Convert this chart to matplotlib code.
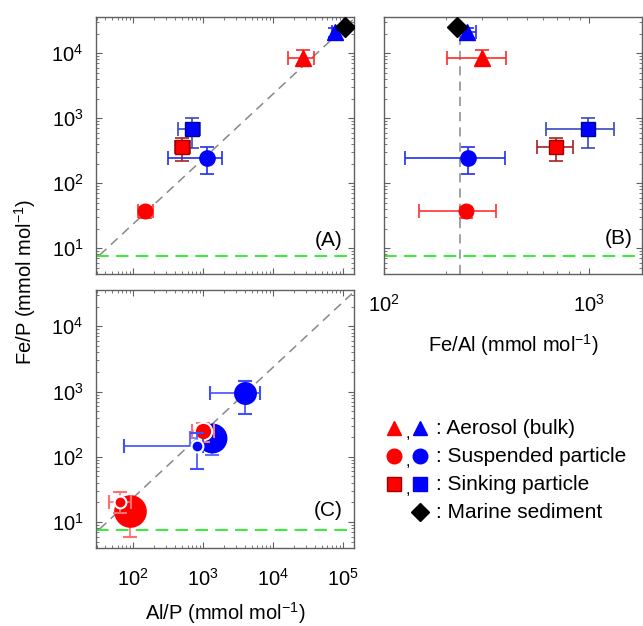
"""Fe/P vs Al/P and Fe/Al for aerosol, particles and sediment (three panels)."""

import matplotlib

matplotlib.use("Agg")
import matplotlib.pyplot as plt
import numpy as np
from matplotlib.ticker import LogLocator, NullFormatter

plt.rcParams["font.family"] = ["Liberation Sans", "DejaVu Sans"]
plt.rcParams["mathtext.default"] = "regular"
plt.rcParams["font.size"] = 14

# --- panels A / B : one point per sample type -------------------------------
sample = ["aerosol_red", "aerosol_blue", "susp_red", "susp_blue",
          "sink_red", "sink_blue", "sediment"]
al_p = [2.7e4, 7.8e4, 148, 1130, 506, 703, 1.08e5]
al_p_lo = [1.66e4, 7.0e4, 117, 319, 398, 435, 1.08e5]
al_p_hi = [3.85e4, 8.6e4, 190, 1890, 652, 906, 1.08e5]
fe_p = [8400, 2.1e4, 37, 245, 362, 680, 2.5e4]
fe_p_lo = [6500, 1.8e4, 29, 137, 218, 350, 2.5e4]
fe_p_hi = [1.1e4, 2.4e4, 43, 358, 498, 1010, 2.5e4]
fe_al = [302, 255, 250, 256, 690, 985, 228]
fe_al_lo = [204, 245, 148, 126, 558, 617, 228]
fe_al_hi = [395, 282, 351, 390, 832, 1325, 228]

# --- panel C : size-resolved particles ---------------------------------------
c_al_p = [89, 65, 1330, 1010, 810, 4000]
c_al_p_lo = [75, 45, 650, 700, 75, 1260]
c_al_p_hi = [105, 93, 2000, 1450, 1000, 6500]
c_fe_p = [14.8, 20, 192, 248, 148, 965]
c_fe_p_lo = [5.9, 14, 105, 170, 66, 450]
c_fe_p_hi = [22, 29, 300, 330, 229, 1475]

crust_fe_al = 235.0      # mmol/mol, dashed reference
fe_p_floor = 7.5         # green dashed line

# styles (kept apart from the data)
RED, BLUE = "#ff0000", "#0000ff"
ab_style = {
    "aerosol_red": dict(marker="^", mfc=RED, mec=RED, ecolor="#ff2a2a", ms=12),
    "aerosol_blue": dict(marker="^", mfc=BLUE, mec=BLUE, ecolor="#2a2aff", ms=12),
    "susp_red": dict(marker="o", mfc=RED, mec=RED, ecolor="#ff3030", ms=10.5),
    "susp_blue": dict(marker="o", mfc=BLUE, mec=BLUE, ecolor="#2030e8", ms=11),
    "sink_red": dict(marker="s", mfc=RED, mec="#a00000", ecolor="#a82020", ms=10.5),
    "sink_blue": dict(marker="s", mfc=BLUE, mec="#0000a0", ecolor="#3848c0", ms=10.5),
    "sediment": dict(marker="D", mfc="black", mec="black", ecolor="black", ms=10),
}
ab_order = ["sink_blue", "sink_red", "susp_blue", "susp_red",
            "aerosol_red", "aerosol_blue", "sediment"]

c_style = [
    dict(mfc=RED, mec=RED, ecolor="#ff7070", ms=22, ls="-"),
    dict(mfc=RED, mec="white", ecolor="#ff7070", ms=8.5, ls="--"),
    dict(mfc=BLUE, mec=BLUE, ecolor="#6070ff", ms=20, ls="--"),
    dict(mfc=RED, mec="white", ecolor="#ff7070", ms=12.5, ls="--"),
    dict(mfc=BLUE, mec="white", ecolor="#4050ff", ms=8.5, ls="-"),
    dict(mfc=BLUE, mec=BLUE, ecolor="#4050ff", ms=15, ls="-"),
]

W, H = 643, 626
fig = plt.figure(figsize=(W / 100, H / 100), dpi=100)


def px_axes(x0, y0, x1, y1):
    return fig.add_axes([x0 / W, 1 - y1 / H, (x1 - x0) / W, (y1 - y0) / H])


ax_a = px_axes(96, 17, 354, 274)
ax_b = px_axes(384, 17, 642, 274)
ax_c = px_axes(96, 290, 354, 548)

XLIM_ALP = (29.5, 1.44e5)
YLIM_FEP = (4.0, 3.6e4)
SPINE = "#606060"


def style_axes(ax):
    ax.set_xscale("log")
    ax.set_yscale("log")
    for sp in ax.spines.values():
        sp.set_color(SPINE)
        sp.set_linewidth(1.0)
    ax.tick_params(which="both", direction="in", top=True, right=True,
                   color=SPINE, labelsize=14.5)
    ax.tick_params(which="major", length=4, width=0.8)
    ax.tick_params(which="minor", length=2, width=0.6)
    ax.tick_params(axis="y", pad=9)
    ax.tick_params(axis="x", pad=14)
    ax.yaxis.set_major_locator(LogLocator(base=10, numticks=10))
    ax.yaxis.set_minor_locator(LogLocator(base=10, subs=np.arange(2, 10), numticks=10))
    ax.yaxis.set_minor_formatter(NullFormatter())
    ax.xaxis.set_minor_formatter(NullFormatter())
    ax.set_ylim(*YLIM_FEP)


def err_pair(v, lo, hi):
    return [[v - lo], [hi - v]]


ref_x = np.logspace(0, 6, 50)

# panel A
style_axes(ax_a)
ax_a.set_xlim(*XLIM_ALP)
ax_a.plot(ref_x, ref_x * crust_fe_al / 1000, ls=(0, (6, 4)), color="#888888", lw=1.1, zorder=1)
ax_a.axhline(fe_p_floor, color="#22ee22", ls=(0, (7, 4)), lw=1.3, zorder=1)
for name in ab_order:
    i = sample.index(name)
    st = ab_style[name]
    ax_a.errorbar(al_p[i], fe_p[i],
                  xerr=err_pair(al_p[i], al_p_lo[i], al_p_hi[i]),
                  yerr=err_pair(fe_p[i], fe_p_lo[i], fe_p_hi[i]),
                  fmt=st["marker"], ms=st["ms"], mfc=st["mfc"], mec=st["mec"],
                  ecolor=st["ecolor"], elinewidth=1.2, capsize=5, capthick=1.2, zorder=3)
ax_a.tick_params(axis="x", labelbottom=False)
ax_a.text(0.955, 0.13, "(A)", transform=ax_a.transAxes, ha="right", va="center", fontsize=15)

# panel B
style_axes(ax_b)
ax_b.set_xlim(100, 1815)
ax_b.axvline(crust_fe_al, ls=(0, (6, 4)), color="#888888", lw=1.1, zorder=1)
ax_b.axhline(fe_p_floor, color="#22ee22", ls=(0, (7, 4)), lw=1.3, zorder=1)
for name in ab_order:
    i = sample.index(name)
    st = ab_style[name]
    ax_b.errorbar(fe_al[i], fe_p[i],
                  xerr=err_pair(fe_al[i], fe_al_lo[i], fe_al_hi[i]),
                  yerr=err_pair(fe_p[i], fe_p_lo[i], fe_p_hi[i]),
                  fmt=st["marker"], ms=st["ms"], mfc=st["mfc"], mec=st["mec"],
                  ecolor=st["ecolor"], elinewidth=1.2, capsize=5, capthick=1.2, zorder=3)
ax_b.tick_params(axis="y", labelleft=False)
ax_b.set_xlabel("Fe/Al (mmol mol$^{-1}$)", fontsize=14.5, labelpad=12)
ax_b.text(0.965, 0.14, "(B)", transform=ax_b.transAxes, ha="right", va="center", fontsize=15)

# panel C
style_axes(ax_c)
ax_c.set_xlim(*XLIM_ALP)
ax_c.plot(ref_x, ref_x * crust_fe_al / 1000, ls=(0, (6, 4)), color="#888888", lw=1.1, zorder=1)
ax_c.axhline(fe_p_floor, color="#22ee22", ls=(0, (7, 4)), lw=1.3, zorder=1)
for i, st in enumerate(c_style):
    eb = ax_c.errorbar(c_al_p[i], c_fe_p[i],
                       xerr=err_pair(c_al_p[i], c_al_p_lo[i], c_al_p_hi[i]),
                       yerr=err_pair(c_fe_p[i], c_fe_p_lo[i], c_fe_p_hi[i]),
                       fmt="o", ms=st["ms"], mfc=st["mfc"], mec=st["mec"], mew=1.5,
                       ecolor=st["ecolor"], elinewidth=1.2, capsize=5, capthick=1.2,
                       zorder=3 + i)
    for bar in eb[2]:
        bar.set_linestyle(st["ls"])
    for cap in eb[1]:
        cap.set_linestyle(st["ls"])
ax_c.set_xlabel("Al/P (mmol mol$^{-1}$)", fontsize=14.5, labelpad=8)
ax_c.text(0.955, 0.147, "(C)", transform=ax_c.transAxes, ha="right", va="center", fontsize=15)

fig.text(25 / W, 1 - 282 / H, "Fe/P (mmol mol$^{-1}$)", rotation=90,
         ha="center", va="center", fontsize=14.5)

# legend drawn by hand in a pixel-space overlay
lax = fig.add_axes([0, 0, 1, 1], zorder=-1)
lax.set_xlim(0, W)
lax.set_ylim(H, 0)
lax.axis("off")
legend_rows = [
    ("^", ": Aerosol (bulk)", "#ff0000", "#0000ff", None),
    ("o", ": Suspended particle", "#ff0000", "#0000ff", None),
    ("s", ": Sinking particle", "#ff0000", "#0000ff", "#a00000"),
    ("D", ": Marine sediment", None, "black", None),
]
row_y0, row_dy = 429, 28
for k, (mk, text, c1, c2, edge) in enumerate(legend_rows):
    y = row_y0 + k * row_dy
    if c1 is not None:
        lax.plot(394, y - 1, mk, ms=10.5, mfc=c1, mec=edge or c1)
        lax.text(407.5, y + 5, ",", ha="center", va="center", fontsize=12)
    lax.plot(420, y - 1, mk, ms=10.5 if mk != "D" else 9.5, mfc=c2, mec=c2)
    lax.text(436, y, text, ha="left", va="center", fontsize=15)

fig.savefig("out.png", dpi=100, facecolor="white")
